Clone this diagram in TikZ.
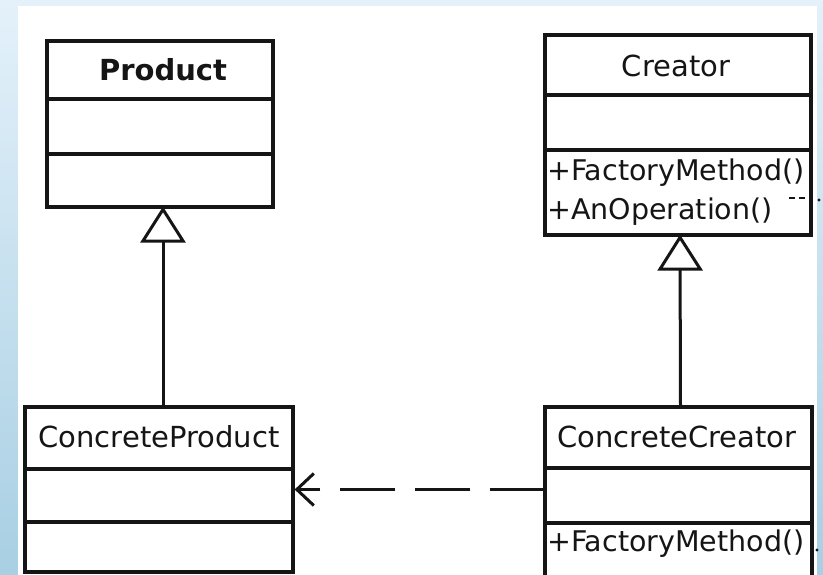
\documentclass[tikz,border=0pt]{standalone}
\usepackage{fontspec}
\setmainfont{DejaVu Sans}
\usetikzlibrary{arrows.meta}
\definecolor{inkc}{HTML}{151515}
\definecolor{edgetop}{HTML}{E4F1FA}
\definecolor{edgebot}{HTML}{A8CFE3}
\begin{document}
\begin{tikzpicture}[x=1pt,y=-1pt,
  classbox/.style={draw=inkc, line width=3.2pt, rectangle, inner sep=0pt, fill=white},
  title/.style={font=\fontsize{29}{30}\selectfont, text=inkc, inner sep=0pt, anchor=center},
  op/.style={font=\fontsize{28.5}{29}\selectfont, text=inkc, inner sep=0pt, anchor=west},
  divider/.style={draw=inkc, line width=3.2pt},
  inherit/.style={draw=inkc, line width=3pt, shorten >=-2pt,
    -{Triangle[open, length=36pt, width=45pt, line width=3pt]}},
  depends/.style={draw=inkc, line width=3pt, dash pattern=on 55pt off 20pt,
    -{Straight Barb[length=17pt, width=32pt, line width=3pt]}},
  speck/.style={font=\fontsize{22}{22}\selectfont, text=inkc, inner sep=0pt},
  tickmark/.style={draw=inkc, line width=2pt}]
  % page frame with the blue edge
  \useasboundingbox (0,0) rectangle (823,575);
  \clip (0,0) rectangle (823,575);
  \shade[top color=edgetop, bottom color=edgebot] (0,0) rectangle (823,575);
  \fill[white] (18,6) rectangle (817,575);

  % classes
  \node[classbox, minimum width=226pt, minimum height=166pt] (product) at (160,124) {};
  \node[classbox, minimum width=266pt, minimum height=200pt] (creator) at (678,135) {};
  \node[classbox, minimum width=268pt, minimum height=165pt] (cproduct) at (159,489.5) {};
  \node[classbox, minimum width=267pt, minimum height=200pt] (ccreator) at (678.5,507) {};

  % compartment dividers
  \draw[divider] (product.west |- 0,99) -- (product.east |- 0,99);
  \draw[divider] (product.west |- 0,154) -- (product.east |- 0,154);
  \draw[divider] (creator.west |- 0,95) -- (creator.east |- 0,95);
  \draw[divider] (creator.west |- 0,150) -- (creator.east |- 0,150);
  \draw[divider] (cproduct.west |- 0,469) -- (cproduct.east |- 0,469);
  \draw[divider] (cproduct.west |- 0,522) -- (cproduct.east |- 0,522);
  \draw[divider] (ccreator.west |- 0,468) -- (ccreator.east |- 0,468);
  \draw[divider] (ccreator.west |- 0,523) -- (ccreator.east |- 0,523);

  % names and operations
  \node[title, font=\fontsize{29}{30}\selectfont\bfseries] (tproduct) at (163,70) {Product};
  \node[title] (tcreator) at (676,66) {Creator};
  \node[title] (tcproduct) at (159,437) {ConcreteProduct};
  \node[title] (tccreator) at (677,437) {ConcreteCreator};
  \node[op] (opfm) at (547,173) {+FactoryMethod()};
  \node[op] (opao) at (547,212) {+AnOperation()};
  \node[op] (opcfm) at (547,544) {+FactoryMethod()};

  % small stray marks at the right edge
  \draw[tickmark] (789,198) -- (795,198);
  \draw[tickmark] (799,198) -- (805,198);
  \fill[inkc] (819,200) circle (1.6pt);
  \fill[inkc] (817,550) circle (1.6pt);

  % relations
  \draw[inherit] ([xshift=3pt]product.south |- cproduct.north) -- ([xshift=3pt]product.south);
  \draw[inherit] ([xshift=2pt]ccreator.north) -- ([xshift=2pt]creator.south);
  \draw[depends] ([xshift=2pt]ccreator.west |- cproduct.east) -- (cproduct.east);
\end{tikzpicture}
\end{document}
